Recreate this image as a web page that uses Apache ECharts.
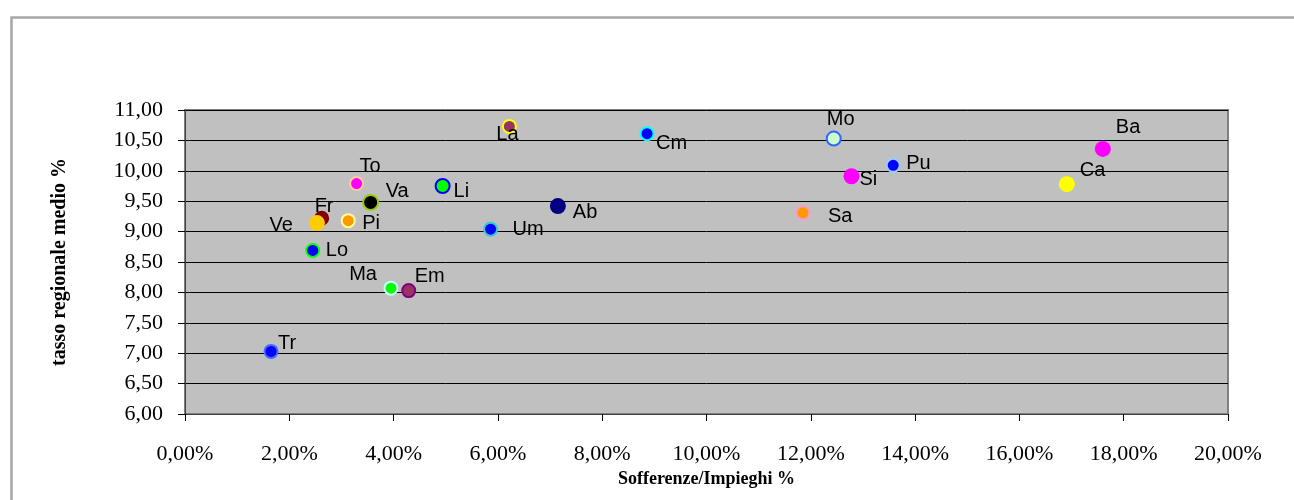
<!DOCTYPE html>
<html>
<head>
<meta charset="utf-8">
<script src="https://cdn.jsdelivr.net/npm/echarts@6/dist/echarts.min.js"></script>
<style>
  html, body { margin: 0; padding: 0; background: #ffffff; }
  #chart { width: 1294px; height: 500px; }
</style>
</head>
<body>
<div id="chart"></div>
<script>
// Regions (abbreviated) with bad-loan ratio (%) and average regional rate (%)
const regions = ['Tr', 'Lo', 'Fr', 'Ve', 'Pi', 'To', 'Va', 'Ma', 'Em', 'Li',
                 'Um', 'Ab', 'La', 'Cm', 'Mo', 'Pu', 'Si', 'Sa', 'Ba', 'Ca'];
const sofferenzeImpieghi = [1.65, 2.45, 2.62, 2.53, 3.13, 3.29, 3.56, 3.95, 4.29, 4.94,
                            5.86, 7.15, 6.22, 8.86, 12.44, 13.58, 12.78, 11.85, 17.60, 16.91];
const tassoMedio = [7.03, 8.69, 9.22, 9.14, 9.18, 9.79, 9.48, 8.07, 8.03, 9.75,
                    9.04, 9.42, 10.73, 10.61, 10.53, 10.09, 9.91, 9.31, 10.36, 9.78];
const xTicks = { min: 0, max: 20, step: 2 };
const yTicks = { min: 6, max: 11, step: 0.5 };

// Marker look per region: fill, border, diameter
const markerStyle = {
  Tr: { fill: '#0000ff', border: '#3f6cff', size: 15 },
  Lo: { fill: '#0000ff', border: '#00ff00', size: 15 },
  Fr: { fill: '#800000', border: null, size: 15 },
  Ve: { fill: '#ffcc00', border: null, size: 16 },
  Pi: { fill: '#ff9900', border: '#ffff99', size: 15 },
  To: { fill: '#ff00ff', border: '#ffcc99', size: 15 },
  Va: { fill: '#000000', border: '#99cc00', size: 17 },
  Ma: { fill: '#00ff00', border: '#ccffff', size: 15 },
  Em: { fill: '#993366', border: '#800080', size: 15 },
  Li: { fill: '#00ff00', border: '#0000ff', size: 16 },
  Um: { fill: '#0000ff', border: '#33cccc', size: 15 },
  Ab: { fill: '#000080', border: null, size: 16 },
  La: { fill: '#993366', border: '#ffff00', size: 15 },
  Cm: { fill: '#0000ff', border: '#00ffff', size: 15 },
  Mo: { fill: '#ccffcc', border: '#3366ff', size: 16 },
  Pu: { fill: '#0000ff', border: '#99ccff', size: 15 },
  Si: { fill: '#ff00ff', border: null, size: 16 },
  Sa: { fill: '#ff9900', border: '#ff99cc', size: 15 },
  Ba: { fill: '#ff00ff', border: null, size: 16 },
  Ca: { fill: '#ffff00', border: null, size: 16 }
};

// Label placement relative to marker centre: [align, dx, dy]
const labelPlacement = {
  Tr: ['left', 8, -7],   Lo: ['left', 14, 1],   Fr: ['left', -7, -12],
  Ve: ['right', -24, 2], Pi: ['left', 15, 4],   To: ['left', 4, -16],
  Va: ['left', 16, -10], Ma: ['right', -13, -13], Em: ['left', 7, -13],
  Li: ['left', 12, 6],   Um: ['left', 23, 1],   Ab: ['left', 15, 6],
  La: ['left', -12, 9],  Cm: ['left', 10, 11],  Mo: ['left', -6, -18],
  Pu: ['left', 14, -1],  Si: ['left', 8, 3],    Sa: ['left', 26, 5],
  Ba: ['left', 13, -21], Ca: ['left', 13, -14]
};

const points = regions.map((name, i) => {
  const m = markerStyle[name];
  const p = labelPlacement[name];
  const bw = m.border ? 2 : 0;
  const s = m.size - bw;
  return {
    name: name,
    value: [sofferenzeImpieghi[i], tassoMedio[i]],
    symbolSize: s,
    itemStyle: {
      color: m.fill,
      borderColor: m.border || m.fill,
      borderWidth: bw,
      opacity: 1
    },
    label: {
      show: true,
      // position is measured from the symbol's top-left corner
      position: [s / 2 + p[1], s / 2 + p[2]],
      align: p[0],
      verticalAlign: 'middle',
      formatter: '{b}',
      color: '#000000',
      fontFamily: 'Liberation Sans, Arial, sans-serif',
      fontSize: 20
    }
  };
});

const comma = (v, d) => v.toFixed(d).replace('.', ',');
const serif = 'Liberation Serif, Times New Roman, serif';

const chart = echarts.init(document.getElementById('chart'), null, { renderer: 'canvas' });
chart.setOption({
  animation: false,
  backgroundColor: '#ffffff',
  graphic: [{
    type: 'rect',
    left: 9, top: 15,
    shape: { width: 1400, height: 600 },
    style: { fill: 'none', stroke: '#a6a6a6', lineWidth: 2.5 },
    silent: true,
    z: -10
  }],
  grid: {
    left: 185, right: 66, top: 110, bottom: 86,
    show: true,
    backgroundColor: '#c0c0c0',
    borderColor: '#808080',
    borderWidth: 2
  },
  xAxis: {
    type: 'value',
    min: xTicks.min, max: xTicks.max, interval: xTicks.step,
    name: 'Sofferenze/Impieghi %',
    nameLocation: 'middle',
    nameGap: 53,
    nameTextStyle: { fontFamily: serif, fontWeight: 'bold', fontSize: 18, color: '#000' },
    axisLine: { show: true, lineStyle: { color: '#404040', width: 1 } },
    axisTick: { show: true, length: 7, lineStyle: { color: '#000' } },
    axisLabel: {
      margin: 29,
      fontFamily: serif, fontSize: 22, color: '#000',
      formatter: v => comma(v, 2) + '%'
    },
    splitLine: { show: false }
  },
  yAxis: {
    type: 'value',
    min: yTicks.min, max: yTicks.max, interval: yTicks.step,
    name: 'tasso regionale medio %',
    nameLocation: 'middle',
    nameGap: 115,
    nameTextStyle: { fontFamily: serif, fontWeight: 'bold', fontSize: 20, color: '#000' },
    axisLine: { show: true, lineStyle: { color: '#404040', width: 1 } },
    axisTick: { show: true, length: 7, lineStyle: { color: '#000' } },
    axisLabel: {
      margin: 22,
      fontFamily: serif, fontSize: 22, color: '#000',
      formatter: v => comma(v, 2)
    },
    splitLine: { show: true, lineStyle: { color: '#000000', width: 1 } }
  },
  series: [{
    type: 'scatter',
    symbol: 'circle',
    data: points,
    labelLayout: { hideOverlap: false }
  }]
});
</script>
</body>
</html>
